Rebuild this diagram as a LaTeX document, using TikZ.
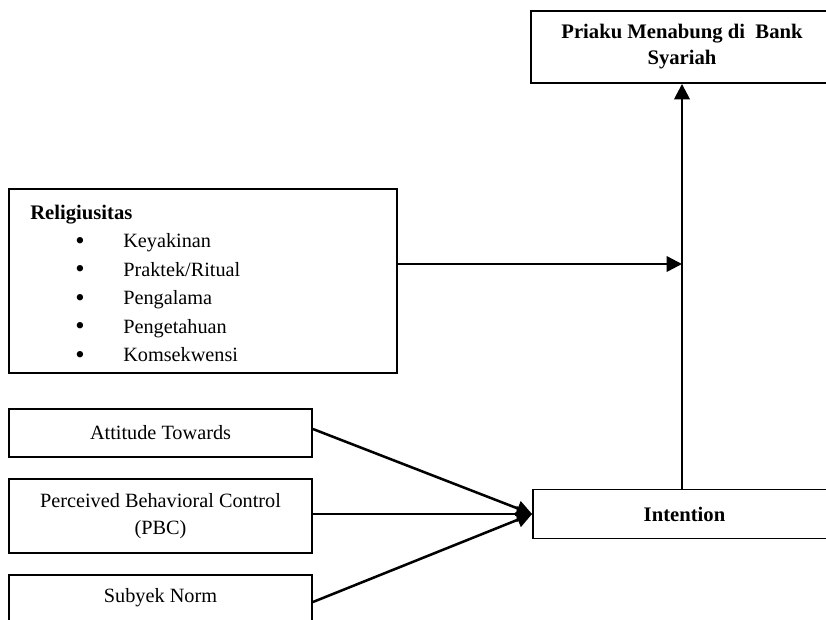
\documentclass[tikz,border=0pt]{standalone}
\usepackage{fontspec}
\setmainfont{Liberation Serif}
\usetikzlibrary{arrows.meta}
\begin{document}
\begin{tikzpicture}[x=0.75pt,y=-0.75pt,
  every node/.style={font=\fontsize{15.2}{20}\selectfont},
  box/.style={draw,line width=1.4pt,inner sep=0pt,align=center},
  boldtext/.style={font=\bfseries\fontsize{15.5}{19.5}\selectfont},
  arr/.style={line width=1.9pt,-{Triangle[length=11.5pt,width=11.5pt]}},
  item/.style={inner sep=0pt,anchor=base west},
  bul/.style={inner sep=0pt,anchor=base,font=\fontsize{20}{20}\selectfont}]
\useasboundingbox (0,0) rectangle (826,619);
\clip (0,0) rectangle (826,619);
\fill[white] (0,0) rectangle (826,619);

% top box
\node[box,boldtext,minimum width=226.5pt,minimum height=54pt] (top) at (682,47) {Priaku Menabung di\ \ Bank\\Syariah};

% religiusitas
\node[box,minimum width=291pt,minimum height=138pt] (rel) at (203,281) {};
\node[item,boldtext] (reltitle) at (30,219) {Religiusitas};
\node[bul] (b1) at (80,249) {•};
\node[item] (i1) at (123,247.5) {Keyakinan};
\node[bul] (b2) at (80,277.5) {•};
\node[item] (i2) at (123,276) {Praktek/Ritual};
\node[bul] (b3) at (80,306) {•};
\node[item] (i3) at (123,304.5) {Pengalama};
\node[bul] (b4) at (80,334.5) {•};
\node[item] (i4) at (123,333) {Pengetahuan};
\node[bul] (b5) at (80,363) {•};
\node[item] (i5) at (123,361.5) {Komsekwensi};

% left boxes
\node[box,minimum width=227.25pt,minimum height=36pt] (att) at (160.5,433) {Attitude Towards};
\node[box,minimum width=227.25pt,minimum height=55.5pt,font=\fontsize{15.2}{20.25}\selectfont] (pbc) at (160.5,516) {Perceived Behavioral Control\\(PBC)};
\node[box,minimum width=227.25pt,minimum height=34.5pt] (sub) at (160.5,598) {Subyek Norm};

% intention
\node[box,boldtext,minimum width=227.25pt,minimum height=36.75pt] (int) at (684.5,514) {Intention};

% arrows
\path (rel.east) ++(0,-17) coordinate (relout);
\draw[arr] (relout) -- (relout -| top.south);
\draw[arr] (int.north -| top.south) -- (top.south);
\draw[arr] ([yshift=3pt]att.east) -- (int.west);
\draw[arr] (pbc.east |- int.west) -- (int.west);
\draw[arr] ([yshift=-3pt]sub.east) -- (int.west);
\end{tikzpicture}
\end{document}
